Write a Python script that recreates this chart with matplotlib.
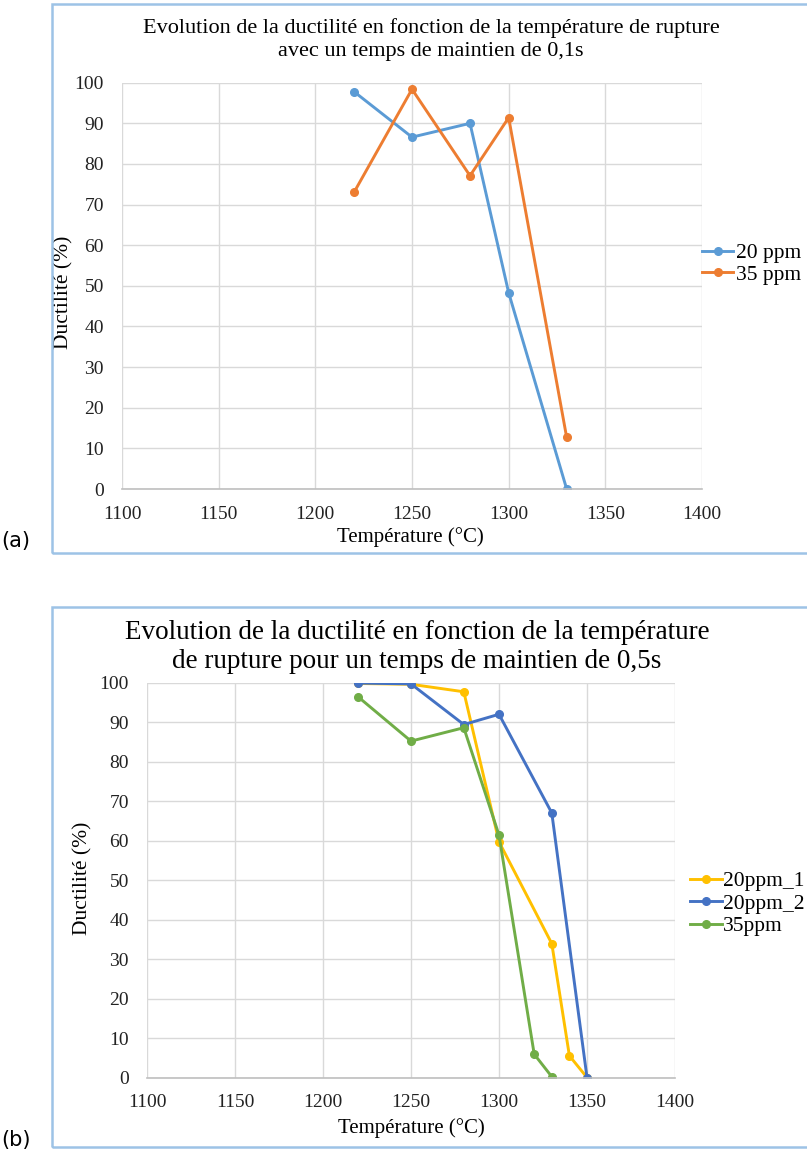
import matplotlib
matplotlib.use('Agg')
import matplotlib.pyplot as plt
from matplotlib.patches import Rectangle

plt.rcParams['font.family'] = ['Liberation Serif', 'DejaVu Serif']

# chart (a) : temps de maintien 0,1s
tempsA = [1220, 1250, 1280, 1300, 1330]
duct20A = [97.8, 86.6, 90.0, 48.3, 0.0]
duct35A = [73.0, 98.4, 77.1, 91.4, 12.7]

# chart (b) : temps de maintien 0,5s
temps20_1 = [1220, 1250, 1280, 1300, 1330, 1340, 1350]
duct20_1 = [99.8, 99.6, 97.7, 59.7, 33.9, 5.5, 0.0]
temps20_2 = [1220, 1250, 1280, 1300, 1330, 1350]
duct20_2 = [99.9, 99.7, 89.4, 92.0, 67.0, 0.0]
temps35B = [1220, 1250, 1280, 1300, 1320, 1330]
duct35B = [96.4, 85.2, 88.6, 61.4, 5.9, 0.2]

xTicks = [1100, 1150, 1200, 1250, 1300, 1350, 1400]
yTicks = [0, 10, 20, 30, 40, 50, 60, 70, 80, 90, 100]

W, H = 807, 1151
fig = plt.figure(figsize=(W / 100, H / 100), dpi=100)


def px(x0, y0, x1, y1):
    '''Converts pixel box (top-left origin) to figure fractions.'''
    return [x0 / W, 1 - y1 / H, (x1 - x0) / W, (y1 - y0) / H]


def drawBox(y0, y1, label, labelY):
    '''Draws the light blue frame around one chart.'''
    fig.patches.append(Rectangle((52 / W, 1 - y1 / H), (W + 5 - 52) / W, (y1 - y0) / H,
                                 transform=fig.transFigure, fill=False,
                                 edgecolor='#9DC3E6', linewidth=1.8))
    fig.text(1 / W, 1 - labelY / H, label, fontsize=15, va='center', ha='left',
             family=['DejaVu Sans'])


def setupAxes(ax):
    '''Excel style axes.'''
    ax.set_xlim(1100, 1400)
    ax.set_ylim(0, 100)
    ax.set_xticks(xTicks)
    ax.set_yticks(yTicks)
    ax.grid(True, color='#D9D9D9', linewidth=1)
    ax.set_axisbelow(True)
    for s in ['top', 'right', 'left']:
        ax.spines[s].set_visible(False)
    ax.spines['bottom'].set_color('#BFBFBF')
    ax.spines['bottom'].set_linewidth(1.2)
    ax.tick_params(length=0, labelsize=14, colors='#222222')
    ax.tick_params(axis='y', pad=13)
    ax.tick_params(axis='x', pad=12)


# ---- chart (a)
drawBox(4, 553, '(a)', 541)
axA = fig.add_axes(px(122, 82.7, 702, 489))
setupAxes(axA)
axA.plot(tempsA, duct20A, '-o', color='#5B9BD5', linewidth=2.1, markersize=5.5, label='20 ppm')
axA.plot(tempsA, duct35A, '-o', color='#ED7D31', linewidth=2.1, markersize=5.5, label='35 ppm')
axA.set_ylabel('Ductilité (%)', fontsize=15.5)
axA.yaxis.set_label_coords(-0.084, 0.483)
axA.set_xlabel('Température (°C)', fontsize=15)
axA.xaxis.set_label_coords(0.497, -0.094)
fig.text(431 / W, 1 - 40 / H,
         'Evolution de la ductilité en fonction de la température de rupture\n'
         'avec un temps de maintien de 0,1s',
         ha='center', va='center', fontsize=16, linespacing=1.28)
axA.legend(loc='center left', bbox_to_anchor=(1.0, 0.554), frameon=False,
           fontsize=15.5, handlelength=1.45, handletextpad=0.15, labelspacing=0.05,
           borderpad=0, borderaxespad=0)

# ---- chart (b)
drawBox(607, 1147, '(b)', 1140)
axB = fig.add_axes(px(147, 682.7, 675, 1077.5))
setupAxes(axB)
axB.plot(temps20_1, duct20_1, '-o', color='#FFC000', linewidth=2.1, markersize=5.5, label='20ppm_1')
axB.plot(temps20_2, duct20_2, '-o', color='#4472C4', linewidth=2.1, markersize=5.5, label='20ppm_2')
axB.plot(temps35B, duct35B, '-o', color='#70AD47', linewidth=2.1, markersize=5.5, label='35ppm')
axB.set_ylabel('Ductilité (%)', fontsize=15.5)
axB.yaxis.set_label_coords(-0.104, 0.505)
axB.set_xlabel('Température (°C)', fontsize=15)
axB.xaxis.set_label_coords(0.5, -0.103)
fig.text(417 / W, 1 - 647 / H,
         'Evolution de la ductilité en fonction de la température\n'
         'de rupture pour un temps de maintien de 0,5s',
         ha='center', va='center', fontsize=19.5, linespacing=1.18)
axB.legend(loc='center left', bbox_to_anchor=(1.0 + 15 / 528, 0.44), frameon=False,
           fontsize=15.5, handlelength=1.5, handletextpad=0.05, labelspacing=0.12,
           borderpad=0, borderaxespad=0)

fig.savefig('out.png', dpi=100)
